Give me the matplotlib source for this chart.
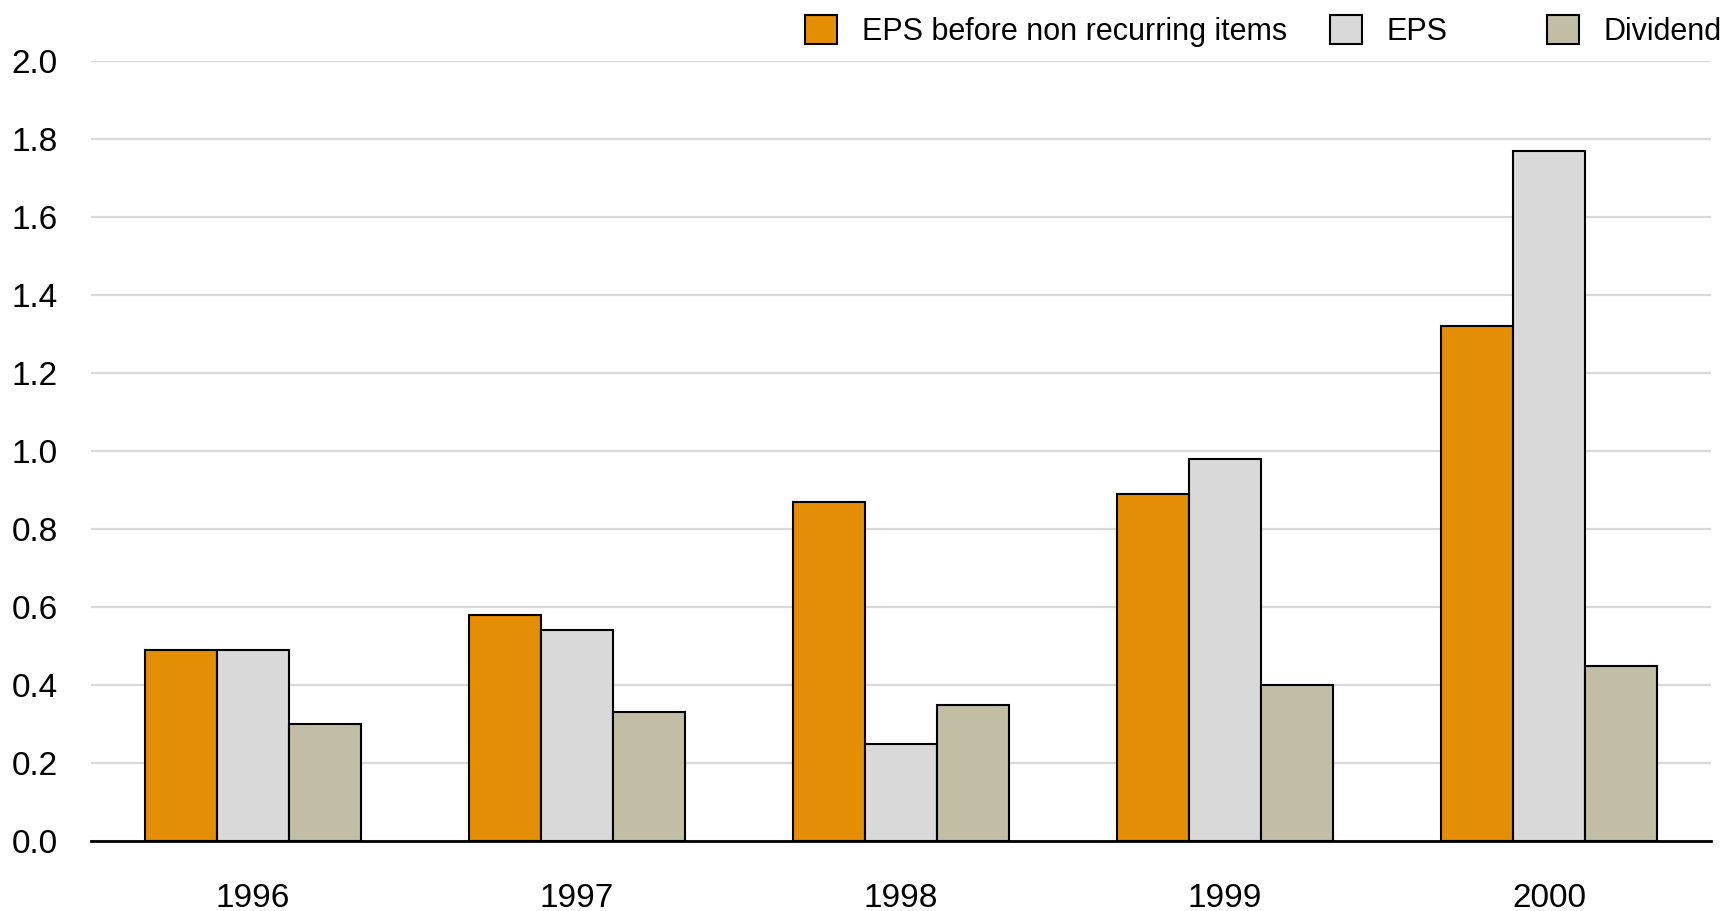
import numpy as np
import matplotlib
matplotlib.use("Agg")
import matplotlib.pyplot as plt
from matplotlib.patches import Patch

plt.rcParams['font.family'] = ['Liberation Sans Narrow', 'Liberation Sans', 'DejaVu Sans']

years = ['1996', '1997', '1998', '1999', '2000']
eps_before = [0.49, 0.58, 0.87, 0.89, 1.32]
eps = [0.49, 0.54, 0.25, 0.98, 1.77]
dividend = [0.30, 0.33, 0.35, 0.40, 0.45]

series_names = ['EPS before non recurring items', 'EPS', 'Dividend']
colors = ['#E38E05', '#D9D9D9', '#C2BDA5']

fig = plt.figure(figsize=(17.23, 9.11), dpi=100)
ax = fig.add_axes([91/1723, 70/911, 1620/1723, 780/911])

x = np.arange(len(years))
w = 0.222
for i, (vals, c) in enumerate(zip([eps_before, eps, dividend], colors)):
    ax.bar(x + (i - 1)*w, vals, width=w, color=c, edgecolor='black', linewidth=1.5, zorder=3)

ax.set_xlim(-0.5, len(years) - 0.5)
ax.set_ylim(0, 2.0)
ax.set_yticks(np.arange(0, 2.01, 0.2))
ax.set_yticklabels([f'{v:.1f}' for v in np.arange(0, 2.01, 0.2)])
ax.set_xticks(x)
ax.set_xticklabels(years)
ax.yaxis.grid(True, color='#D9D9D9', linewidth=1.6, zorder=0)
ax.set_axisbelow(True)
for s in ['top', 'right', 'left']:
    ax.spines[s].set_visible(False)
ax.spines['bottom'].set_linewidth(2)
ax.spines['bottom'].set_zorder(4)
ax.tick_params(axis='both', length=0, labelsize=24)
ax.tick_params(axis='y', pad=24)
ax.tick_params(axis='x', pad=30)

# legend: three entries at the top right
anchors = [805/1723, 1330/1723, 1547/1723]
for name, c, a in zip(series_names, colors, anchors):
    h = Patch(facecolor=c, edgecolor='black', linewidth=1.5)
    fig.legend([h], [name], loc='center left', bbox_to_anchor=(a, 1 - 31/911),
               frameon=False, fontsize=22, handlelength=1.05, handleheight=1.05,
               handletextpad=0.8, borderaxespad=0, borderpad=0)

fig.savefig('out.png', dpi=100)
